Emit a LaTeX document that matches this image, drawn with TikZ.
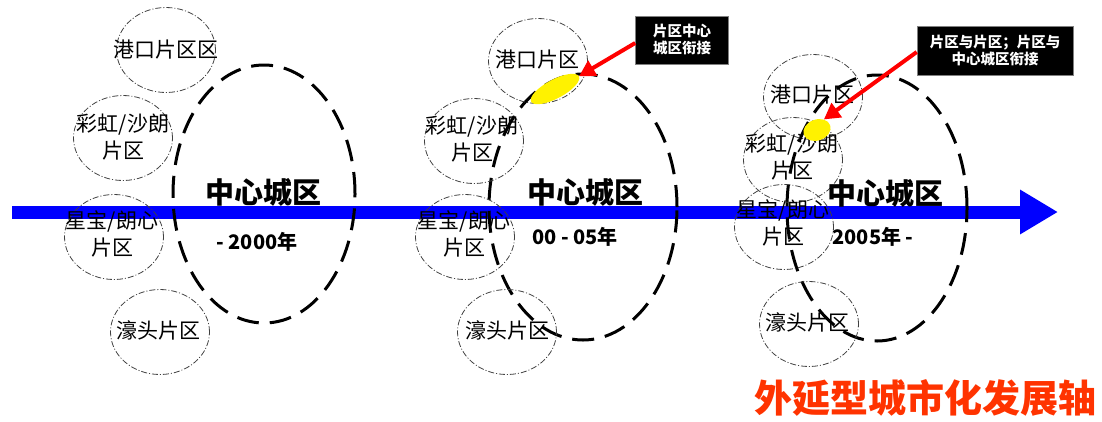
\documentclass[tikz,border=0pt]{standalone}
\usepackage{fontspec}
\setmainfont{Noto Sans CJK SC}
\usetikzlibrary{shapes.geometric,arrows.meta}
\definecolor{titlered}{HTML}{FF3300}
\definecolor{axisblue}{HTML}{0000FF}
\tikzset{
  district/.style={ellipse, draw=black!75, line width=0.8pt,
    dash pattern=on 6pt off 2pt on 1pt off 2pt,
    minimum width=99pt, minimum height=85pt, inner sep=0pt},
  dtext/.style={align=center, inner sep=0pt, font=\fontsize{21}{27}\selectfont},
  core/.style={ellipse, draw=black, line width=3pt,
    dash pattern=on 22pt off 11pt, inner sep=0pt},
  coretext/.style={font=\bfseries\fontsize{29}{32}\selectfont},
  yeartext/.style={font=\bfseries\fontsize{20}{23}\selectfont},
  joint/.style={ellipse, fill=yellow, inner sep=0pt},
  notebox/.style={fill=black, draw=black!50, line width=0.6pt, text=white,
    align=center, inner sep=2pt, font=\bfseries\fontsize{14.5}{17}\selectfont},
  pointer/.style={draw=red, line width=4pt, -{Triangle[length=16pt,width=17pt]}},
}
\begin{document}
\begin{tikzpicture}[x=1pt,y=-1pt]
\useasboundingbox (0,0) rectangle (1102,421);
% axis
\coordinate (axS) at (12,212);
\coordinate (axE) at (1058,212);
\draw[axisblue, line width=13pt, -{Triangle[length=38pt,width=42pt]}] (axS) -- (axE);

% ---------- panel 1 ----------
\node[core, minimum width=182pt, minimum height=258pt] (c1) at (264,194) {};
\node[district] (g1) at (166,50) {};
\node[district] (h1) at (123,138) {};
\node[district] (x1) at (114,237) {};
\node[district] (t1) at (160,332) {};
\node[dtext] (g1t) at (166,50) {港口片区区};
\node[dtext] (h1t) at (123,137) {彩虹/沙朗\\片区};
\node[dtext] (x1t) at (112,234) {星宝/朗心\\片区};
\node[dtext] (t1t) at (158,330) {濠头片区};
\node[coretext] (ct1) at (263,192) {中心城区};
\node[yeartext] (y1) at (257,242) {- 2000年};

% ---------- panel 2 ----------
\node[core, minimum width=188pt, minimum height=266pt] (c2) at (583,207) {};
\node[district] (g2) at (538,61) {};
\node[district] (h2) at (474,141) {};
\node[district] (x2) at (465,237) {};
\node[district] (t2) at (507,332) {};
\node[dtext] (g2t) at (537,60) {港口片区};
\node[dtext] (h2t) at (472,139) {彩虹/沙朗\\片区};
\node[dtext] (x2t) at (464,234) {星宝/朗心\\片区};
\node[dtext] (t2t) at (507,330) {濠头片区};
\node[joint, minimum width=54pt, minimum height=19pt, rotate=28] (j2) at (555,89) {};
\node[coretext] (ct2) at (585,192) {中心城区};
\node[yeartext] (y2) at (575,237) {00 - 05年};
\node[notebox, minimum width=93pt, minimum height=48pt] (n2) at (682,40) {片区中心\\城区衔接};
\draw[pointer] (n2.west |- 0,43) -- (j2.east);

% ---------- panel 3 ----------
\node[core, minimum width=180pt, minimum height=266pt] (c3) at (877,208) {};
\node[district] (g3) at (813,97) {};
\node[district] (h3) at (793,160) {};
\node[district] (x3) at (784,227) {};
\node[district] (t3) at (809,324) {};
\node[dtext] (g3t) at (812,95) {港口片区};
\node[dtext] (h3t) at (792,157) {彩虹/沙朗\\片区};
\node[dtext] (x3t) at (783,223) {星宝/朗心\\片区};
\node[dtext] (t3t) at (807,322) {濠头片区};
\node[joint, minimum width=28pt, minimum height=21pt, rotate=20] (j3) at (817,130) {};
\node[coretext] (ct3) at (885,193) {中心城区};
\node[yeartext] (y3) at (873,237) {2005年 -};
\node[notebox, minimum width=156pt, minimum height=49pt] (n3) at (995,51) {片区与片区；片区与\\中心城区衔接};
\draw[pointer] (n3.west |- 0,52) -- (j3.north east);

% title
\node[text=titlered, font=\bfseries\fontsize{38}{42}\selectfont] (title) at (925,398) {外延型城市化发展轴};
\end{tikzpicture}
\end{document}
